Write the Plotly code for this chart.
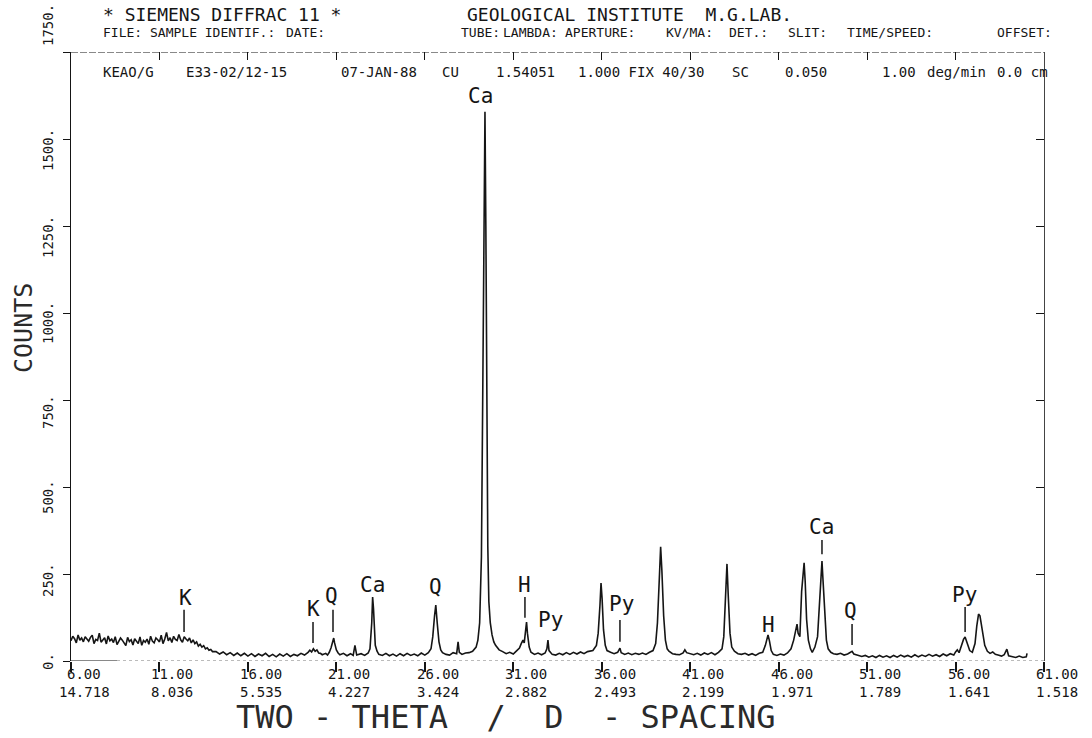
import plotly.graph_objects as go

# ---------------- data ----------------
two_theta = [
    6.0, 6.1, 6.2, 6.3, 6.4, 6.5, 6.6, 6.7, 6.8, 6.9,
    7.0, 7.1, 7.2, 7.3, 7.4, 7.5, 7.6, 7.7, 7.8, 7.9,
    8.0, 8.1, 8.2, 8.3, 8.4, 8.5, 8.6, 8.7, 8.8, 8.9,
    9.0, 9.1, 9.2, 9.3, 9.4, 9.5, 9.6, 9.7, 9.8, 9.9,
    10.0, 10.1, 10.2, 10.3, 10.4, 10.5, 10.6, 10.7, 10.8, 10.9,
    11.0, 11.1, 11.2, 11.3, 11.4, 11.5, 11.6, 11.7, 11.8, 11.9,
    12.0, 12.1, 12.2, 12.3, 12.4, 12.5, 12.6, 12.7, 12.8, 12.9,
    13.0, 13.1, 13.2, 13.3, 13.4, 13.5, 13.6, 13.7, 13.8, 13.9,
    14.0, 14.2, 14.4, 14.6, 14.8, 15.0, 15.2, 15.4, 15.6, 15.8,
    16.0, 16.2, 16.4, 16.6, 16.8, 17.0, 17.2, 17.4, 17.6, 17.8,
    18.0, 18.2, 18.4, 18.6, 18.8, 19.0, 19.2, 19.4, 19.5, 19.6,
    19.7, 19.8, 19.9, 20.0, 20.1, 20.2, 20.4, 20.5, 20.6, 20.7,
    20.8, 20.85, 20.9, 21.0, 21.1, 21.2, 21.4, 21.6, 21.8, 21.95,
    22.05, 22.15, 22.4, 22.6, 22.8, 22.9, 23.0, 23.05, 23.1, 23.15,
    23.2, 23.3, 23.4, 23.6, 23.8, 24.0, 24.2, 24.4, 24.6, 24.8,
    25.0, 25.2, 25.4, 25.6, 25.8, 26.0, 26.2, 26.35, 26.45, 26.55,
    26.62, 26.7, 26.8, 26.9, 27.0, 27.2, 27.4, 27.6, 27.8, 27.88,
    27.95, 28.1, 28.3, 28.5, 28.7, 28.9, 29.0, 29.1, 29.2, 29.28,
    29.35, 29.4, 29.45, 29.5, 29.56, 29.62, 29.7, 29.8, 29.9, 30.0,
    30.1, 30.2, 30.4, 30.6, 30.8, 31.0, 31.2, 31.35, 31.45, 31.55,
    31.62, 31.7, 31.75, 31.8, 31.9, 32.0, 32.2, 32.4, 32.6, 32.8,
    32.9, 32.96, 33.02, 33.2, 33.4, 33.6, 33.8, 34.0, 34.2, 34.4,
    34.6, 34.8, 35.0, 35.2, 35.5, 35.7, 35.8, 35.9, 35.96, 36.02,
    36.1, 36.2, 36.3, 36.5, 36.7, 36.9, 37.03, 37.1, 37.3, 37.5,
    37.7, 37.9, 38.1, 38.3, 38.5, 38.7, 38.9, 39.05, 39.15, 39.25,
    39.33, 39.4, 39.5, 39.6, 39.7, 39.8, 40.0, 40.2, 40.4, 40.6,
    40.7, 40.8, 41.0, 41.2, 41.4, 41.6, 41.8, 42.0, 42.2, 42.4,
    42.6, 42.8, 42.9, 43.0, 43.08, 43.15, 43.25, 43.35, 43.5, 43.7,
    43.9, 44.1, 44.3, 44.5, 44.7, 44.9, 45.1, 45.25, 45.4, 45.48,
    45.58, 45.7, 45.9, 46.1, 46.3, 46.5, 46.7, 46.85, 46.95, 47.04,
    47.1, 47.2, 47.3, 47.44, 47.5, 47.58, 47.68, 47.8, 47.9, 48.05,
    48.2, 48.3, 48.4, 48.45, 48.5, 48.6, 48.7, 48.8, 48.95, 49.1,
    49.3, 49.5, 49.7, 49.9, 50.05, 50.15, 50.25, 50.5, 50.7, 50.9,
    51.1, 51.3, 51.5, 51.7, 51.9, 52.1, 52.3, 52.5, 52.7, 52.9,
    53.1, 53.3, 53.5, 53.7, 53.9, 54.1, 54.3, 54.5, 54.7, 54.9,
    55.1, 55.3, 55.5, 55.7, 55.9, 56.0, 56.1, 56.2, 56.3, 56.45,
    56.54, 56.65, 56.8, 56.95, 57.1, 57.2, 57.3, 57.38, 57.45, 57.55,
    57.65, 57.8, 57.95, 58.1, 58.25, 58.4, 58.6, 58.75, 58.9, 59.0,
    59.2, 59.4, 59.6, 59.8, 60.0, 60.04,
]
counts = [
    58, 71, 64, 52, 75, 60, 66, 55, 70, 63,
    57, 68, 74, 50, 62, 59, 80, 54, 61, 67,
    49, 72, 58, 63, 53, 70, 47, 57, 66, 60,
    52, 44, 68, 56, 61, 46, 64, 58, 50, 69,
    45, 59, 54, 63, 48, 71, 57, 52, 66, 61,
    55, 74, 50, 63, 82, 58, 67, 53, 71, 62,
    59, 76, 61, 54, 70, 63, 58, 66, 52, 61,
    50, 55, 43, 48, 40, 44, 35, 38, 31, 33,
    27, 27, 20, 26, 18, 24, 16, 23, 15, 22,
    14, 21, 13, 20, 15, 22, 13, 19, 12, 20,
    14, 21, 13, 19, 15, 22, 17, 25, 31, 26,
    35, 28, 32, 23, 22, 18, 22, 17, 25, 38,
    60, 66, 52, 32, 23, 18, 22, 15, 21, 16,
    45, 17, 21, 16, 23, 35, 110, 184, 150, 90,
    45, 28, 19, 16, 22, 15, 20, 14, 21, 15,
    22, 16, 20, 15, 23, 17, 24, 35, 70, 130,
    161, 110, 55, 32, 24, 19, 17, 24, 21, 55,
    25, 19, 23, 24, 28, 40, 60, 110, 300, 800,
    1300, 1578, 1250, 700, 330, 170, 110, 75, 55, 45,
    38, 32, 27, 21, 25, 20, 30, 37, 50, 60,
    52, 100, 112, 80, 40, 25, 19, 23, 18, 23,
    35, 60, 30, 19, 17, 22, 18, 24, 19, 25,
    20, 26, 21, 27, 30, 45, 80, 160, 224, 180,
    90, 45, 30, 25, 21, 25, 37, 24, 19, 23,
    18, 22, 19, 23, 19, 25, 30, 50, 110, 230,
    328, 260, 130, 60, 35, 28, 21, 19, 18, 23,
    32, 24, 21, 18, 22, 17, 23, 19, 24, 18,
    25, 35, 70, 180, 279, 190, 80, 40, 28, 21,
    19, 22, 17, 21, 16, 22, 25, 45, 75, 58,
    30, 19, 16, 20, 17, 23, 35, 60, 85, 106,
    80, 70, 200, 282, 230, 120, 60, 35, 25, 40,
    70, 150, 250, 287, 240, 130, 60, 35, 25, 21,
    19, 22, 17, 20, 24, 28, 20, 16, 13, 16,
    11, 15, 10, 16, 11, 15, 10, 16, 11, 17,
    12, 16, 11, 18, 12, 17, 13, 19, 14, 18,
    13, 20, 15, 21, 17, 26, 32, 24, 40, 62,
    69, 55, 30, 25, 50, 100, 135, 130, 110, 80,
    45, 28, 22, 26, 19, 17, 14, 18, 34, 15,
    12, 10, 14, 10, 12, 22,
]

xtick_2theta = [6, 11, 16, 21, 26, 31, 36, 41, 46, 51, 56, 61]
xtick_deg_text = ["6.00", "11.00", "16.00", "21.00", "26.00", "31.00",
                  "36.00", "41.00", "46.00", "51.00", "56.00", "61.00"]
xtick_d_text = ["14.718", "8.036", "5.535", "4.227", "3.424", "2.882",
                "2.493", "2.199", "1.971", "1.789", "1.641", "1.518"]
ytick_vals = [0, 250, 500, 750, 1000, 1250, 1500, 1750]
ytick_text = ["0.", "250.", "500.", "750.", "1000.", "1250.", "1500.", "1750."]

phase_labels = ["K", "K", "Q", "Ca", "Q", "Ca", "H", "Py", "Py", "H", "Ca", "Q", "Py"]
phase_label_2theta = [12.5, 19.68, 20.75, 23.07, 26.63, 29.12, 31.66, 33.08,
                      37.09, 45.40, 48.40, 50.09, 56.48]
phase_label_counts = [181, 149, 187, 218, 213, 1625, 218, 118, 165, 103, 385, 144, 191]
marker_2theta = [12.39, 19.68, 20.81, 31.66, 37.03, 48.45, 50.15, 56.54]
marker_low = [83, 52, 83, 124, 55, 307, 46, 83]
marker_high = [147, 112, 147, 184, 118, 348, 106, 155]

# ---------------- figure ----------------
PX_L, PX_R, PY_T, PY_B = 71, 1044, 52, 661
MONO = "DejaVu Sans Mono"
INK = "#151515"


def xp(px):
    return (px - PX_L) / (PX_R - PX_L)


def yp(py):
    return (PY_B - py) / (PY_B - PY_T)


fig = go.Figure()
fig.add_trace(go.Scatter(x=two_theta, y=counts, mode="lines",
                         line=dict(color=INK, width=1.6), hoverinfo="skip"))
fig.add_trace(go.Scatter(x=[6, 61], y=[0, 1750], mode="lines", xaxis="x2", yaxis="y2",
                         line=dict(color="rgba(0,0,0,0)"), hoverinfo="skip"))

ann = []
# peak labels
for t, x, y in zip(phase_labels, phase_label_2theta, phase_label_counts):
    ann.append(dict(x=x, y=y, xref="x", yref="y", text=t, showarrow=False,
                    xanchor="center", yanchor="middle",
                    font=dict(family=MONO, size=21, color=INK)))
# x tick labels (two rows)
for x, t1, t2 in zip(xtick_2theta, xtick_deg_text, xtick_d_text):
    ann.append(dict(x=x, y=yp(674), xref="x", yref="paper", text=t1, showarrow=False,
                    xanchor="center", yanchor="middle", xshift=13, borderpad=0,
                    font=dict(family=MONO, size=14, color=INK)))
    ann.append(dict(x=x, y=yp(692), xref="x", yref="paper", text=t2, showarrow=False,
                    xanchor="center", yanchor="middle", xshift=13, borderpad=0,
                    font=dict(family=MONO, size=14, color=INK)))
# y tick labels (rotated)
ylab_py = [662, 580, 497, 412, 323, 237, 150, 25]
for t, py in zip(ytick_text, ylab_py):
    ann.append(dict(x=xp(48), y=yp(py), xref="paper", yref="paper", text=t,
                    showarrow=False, textangle=-90, xanchor="center", yanchor="middle",
                    borderpad=0, font=dict(family=MONO, size=14, color=INK)))
# axis titles
ann.append(dict(x=xp(505), y=yp(737), xref="paper", yref="paper",
                text="TWO - THETA  /  D  - SPACING", showarrow=False,
                xanchor="center", yanchor="bottom", borderpad=0,
                font=dict(family=MONO, size=32, color="#2a2a2a")))
ann.append(dict(x=xp(23), y=yp(328), xref="paper", yref="paper", text="COUNTS",
                showarrow=False, textangle=-90, xanchor="center", yanchor="middle",
                font=dict(family=MONO, size=25, color="#2a2a2a")))
# header
header = [
    ("* SIEMENS DIFFRAC 11 *", 101, 15, 18),
    ("GEOLOGICAL INSTITUTE  M.G.LAB.", 465, 15, 18),
    ("FILE:", 101, 32, 13),
    ("SAMPLE IDENTIF.:", 148, 32, 13),
    ("DATE:", 284, 32, 13),
    ("TUBE:", 459, 32, 13),
    ("LAMBDA:", 501, 32, 13),
    ("APERTURE:", 563, 32, 13),
    ("KV/MA:", 664, 32, 13),
    ("DET.:", 727, 32, 13),
    ("SLIT:", 786, 32, 13),
    ("TIME/SPEED:", 845, 32, 13),
    ("OFFSET:", 995, 32, 13),
    ("KEAO/G", 101, 72, 14),
    ("E33-02/12-15", 184, 72, 14),
    ("07-JAN-88", 339, 72, 14),
    ("CU", 440, 72, 14),
    ("1.54051", 494, 72, 14),
    ("1.000 FIX 40/30", 576, 72, 14),
    ("SC", 730, 72, 14),
    ("0.050", 783, 72, 14),
    ("1.00", 880, 72, 14),
    ("deg/min", 925, 72, 14),
    ("0.0 cm", 995, 72, 14),
]
for t, px, py, sz in header:
    ann.append(dict(x=xp(px), y=yp(py), xref="paper", yref="paper", text=t,
                    showarrow=False, xanchor="left", yanchor="middle",
                    font=dict(family=MONO, size=sz, color=INK)))

shapes = []
# top border (dashed) and bottom base line
shapes.append(dict(type="line", xref="x", yref="y", x0=6, x1=61, y0=1750, y1=1750,
                   line=dict(color=INK, width=1.2, dash="7px,2px")))
shapes.append(dict(type="line", xref="x", yref="y", x0=6, x1=8.6, y0=0, y1=0,
                   line=dict(color=INK, width=1.2)))
shapes.append(dict(type="line", xref="x", yref="y", x0=8.6, x1=61, y0=0, y1=0,
                   line=dict(color="#777", width=1, dash="dot")))
for x, lo, hi in zip(marker_2theta, marker_low, marker_high):
    shapes.append(dict(type="line", xref="x", yref="y", x0=x, x1=x, y0=lo, y1=hi,
                       line=dict(color=INK, width=1.5)))

fig.update_layout(
    width=1092, height=738,
    margin=dict(l=PX_L, r=1092 - PX_R, t=PY_T, b=738 - PY_B),
    paper_bgcolor="white", plot_bgcolor="white", showlegend=False,
    xaxis=dict(range=[6, 61], tickvals=xtick_2theta, showticklabels=False,
               ticks="outside", ticklen=10, tickwidth=1.5, tickcolor=INK,
               showgrid=False, zeroline=False, showline=False),
    yaxis=dict(range=[0, 1750], tickvals=ytick_vals, showticklabels=False,
               ticks="outside", ticklen=7, tickwidth=1.2, tickcolor=INK,
               showgrid=False, zeroline=False, showline=True, linecolor=INK, linewidth=1.3),
    xaxis2=dict(range=[6, 61], overlaying="x", side="top", tickvals=xtick_2theta,
                showticklabels=False, ticks="inside", ticklen=8, tickwidth=1.2,
                tickcolor=INK, showgrid=False, zeroline=False, showline=False),
    yaxis2=dict(range=[0, 1750], overlaying="y", side="right", tickvals=ytick_vals,
                showticklabels=False, ticks="inside", ticklen=8, tickwidth=1.2,
                tickcolor=INK, showgrid=False, zeroline=False, showline=True,
                linecolor="#444", linewidth=1),
    annotations=ann,
    shapes=shapes,
)

fig.write_html("out.html", config={"displayModeBar": False},
               post_script="document.body.style.margin='0px';")
